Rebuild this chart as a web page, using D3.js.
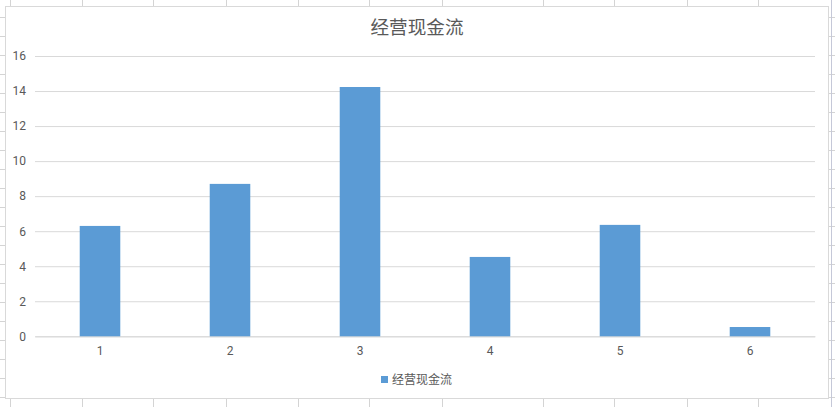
<!DOCTYPE html>
<html>
<head>
<meta charset="utf-8">
<script src="https://cdn.jsdelivr.net/npm/d3@7"></script>
<style>
  body { margin: 0; background: #fff; }
  svg { display: block; font-family: "Noto Sans CJK SC", "Microsoft YaHei", sans-serif; }
</style>
</head>
<body>
<div class="canva"></div>
<script>
// data
const categories = ['1', '2', '3', '4', '5', '6'];
const cashFlow = [6.3, 8.7, 14.23, 4.53, 6.36, 0.53];
const yTicks = [0, 2, 4, 6, 8, 10, 12, 14, 16];
const seriesName = '经营现金流';

const W = 835, H = 407;

const svg = d3.select('.canva').append('svg')
    .attr('width', W)
    .attr('height', H);

// spreadsheet cells behind the chart
const sheet = svg.append('g').attr('stroke', '#d4d4d4').attr('stroke-width', 1);
[10, 82, 153, 226, 298, 369, 442, 543, 614, 687, 758].forEach(x => {
    sheet.append('line').attr('x1', x + 0.5).attr('x2', x + 0.5).attr('y1', 0).attr('y2', H);
});
d3.range(17, H, 19).forEach(y => {
    sheet.append('line').attr('x1', 0).attr('x2', W).attr('y1', y + 0.5).attr('y2', y + 0.5);
});
svg.append('line')
    .attr('x1', 831.5).attr('x2', 831.5).attr('y1', 0).attr('y2', H)
    .attr('stroke', '#c5c8d8');

// chart box
svg.append('rect')
    .attr('x', 5.5).attr('y', 6.5)
    .attr('width', 823).attr('height', 392)
    .attr('fill', '#fff')
    .attr('stroke', '#d9d9d9');

const margin = { top: 56, right: 20, bottom: 71, left: 35 };
const graphWidth = 815 - margin.left;
const graphHeight = 336.3 - margin.top;

const graph = svg.append('g')
    .attr('transform', `translate(${margin.left}, ${margin.top})`);

const y = d3.scaleLinear()
    .domain([0, 16])
    .range([graphHeight, 0]);

const x = d3.scaleBand()
    .domain(categories)
    .range([0, graphWidth])
    .paddingInner(0.688)
    .paddingOuter(0.344);

// horizontal gridlines
const yAxis = d3.axisLeft(y)
    .tickValues(yTicks)
    .tickSize(-graphWidth)
    .tickPadding(9);

const yAxisGroup = graph.append('g').call(yAxis);
yAxisGroup.select('.domain').remove();
yAxisGroup.selectAll('line').attr('stroke', '#d9d9d9');
yAxisGroup.selectAll('text')
    .attr('fill', '#595959')
    .style('font-size', '12px')
    .style('font-family', 'Roboto, "Open Sans", sans-serif');

const xAxis = d3.axisBottom(x).tickSize(0).tickPadding(10);
const xAxisGroup = graph.append('g')
    .attr('transform', `translate(0, ${graphHeight})`)
    .call(xAxis);
xAxisGroup.select('.domain').attr('stroke', '#d9d9d9');
xAxisGroup.selectAll('text')
    .attr('fill', '#595959')
    .style('font-size', '12px')
    .style('font-family', 'Roboto, "Open Sans", sans-serif');

graph.selectAll('rect.bar')
    .data(cashFlow)
    .enter().append('rect')
    .attr('class', 'bar')
    .attr('x', (d, i) => x(categories[i]))
    .attr('y', d => y(d))
    .attr('width', x.bandwidth())
    .attr('height', d => graphHeight - y(d))
    .attr('fill', '#5b9bd5');

// title
svg.append('text')
    .attr('x', 417)
    .attr('y', 34)
    .attr('text-anchor', 'middle')
    .attr('fill', '#595959')
    .style('font-size', '18.6px')
    .text(seriesName);

// legend
const legend = svg.append('g').attr('transform', 'translate(381, 376)');
legend.append('rect')
    .attr('width', 7).attr('height', 7)
    .attr('fill', '#5b9bd5');
legend.append('text')
    .attr('x', 11)
    .attr('y', 8)
    .attr('fill', '#595959')
    .style('font-size', '12px')
    .text(seriesName);
</script>
</body>
</html>
